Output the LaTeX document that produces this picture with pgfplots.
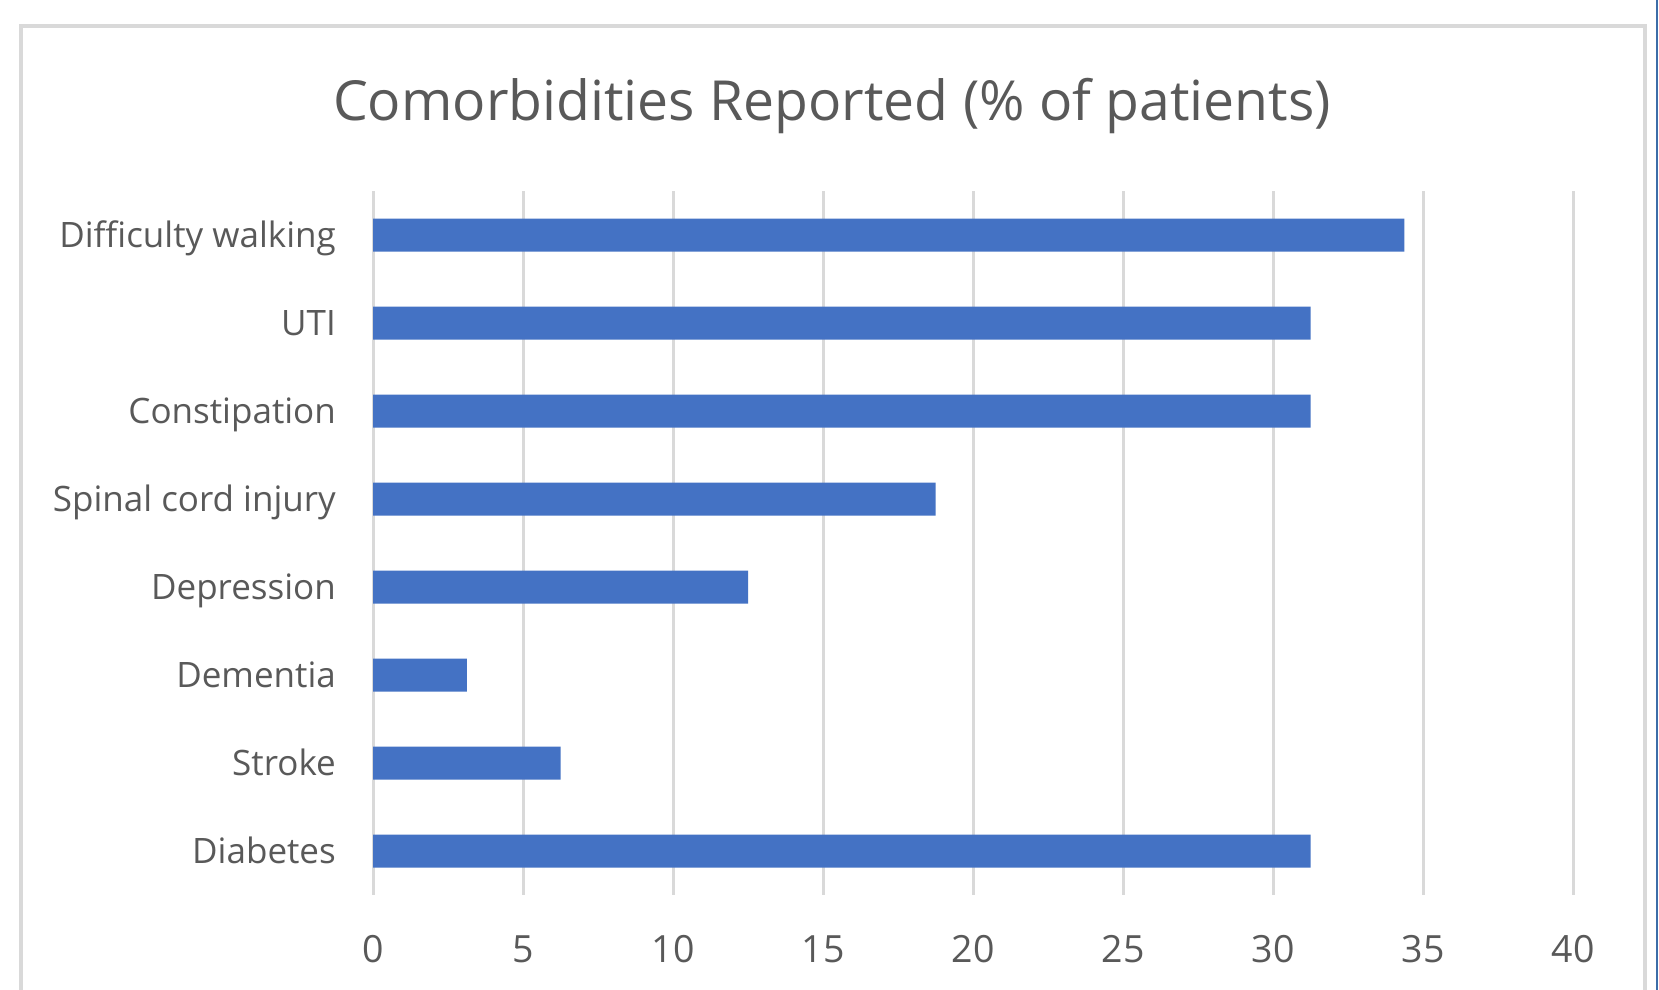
\documentclass[border=0pt]{standalone}
\usepackage{pgfplots}
\pgfplotsset{compat=1.18}
\usepackage{fontspec}
\setmainfont{Open Sans}
\definecolor{barblue}{HTML}{4472C4}
\definecolor{gridgray}{HTML}{D9D9D9}
\definecolor{txtgray}{HTML}{595959}
\definecolor{edgeblue}{HTML}{3C6DA8}
\begin{document}
\begin{tikzpicture}[x=1pt,y=1pt]
\path[use as bounding box] (0,0) rectangle (663.6,396);
\fill[white] (0,0) rectangle (663.6,396);
\draw[gridgray, line width=1.6pt] (8.2,-10) -- (8.2,385.6) -- (657.8,385.6) -- (657.8,-10);
\draw[edgeblue, line width=0.8pt] (662.8,0) -- (662.8,396);
\node[anchor=base, text=txtgray, font=\fontsize{22.1}{26}\selectfont, inner sep=0pt] at (332.8,347.6) {Comorbidities Reported (\% of patients)};
\begin{axis}[at={(149.2pt,38pt)}, anchor=south west, scale only axis,
  width=480pt, height=281.6pt,
  xmin=0, xmax=40, ymin=-0.5, ymax=7.5,
  xbar, bar width=13.2pt,
  xtick={0,5,...,40}, ytick={0,1,...,7},
  yticklabels={Diabetes,Stroke,Dementia,Depression,Spinal cord injury,Constipation,UTI,Difficulty walking},
  axis line style={draw=none}, major tick style={draw=none},
  xmajorgrids, grid style={gridgray, line width=1.2pt},
  x tick label style={anchor=base, yshift=-26.8pt, inner sep=0pt, font=\fontsize{15}{18}\selectfont, text=txtgray},
  y tick label style={anchor=base east, xshift=-10.4pt, yshift=-4.9pt, inner sep=0pt, font=\fontsize{14}{17}\selectfont, text=txtgray},
  /pgf/number format/assume math mode=true, clip=false]
\addplot[fill=barblue, draw=none] coordinates {(31.25,0) (6.25,1) (3.125,2) (12.5,3) (18.75,4) (31.25,5) (31.25,6) (34.375,7)};
\end{axis}
\end{tikzpicture}
\end{document}
